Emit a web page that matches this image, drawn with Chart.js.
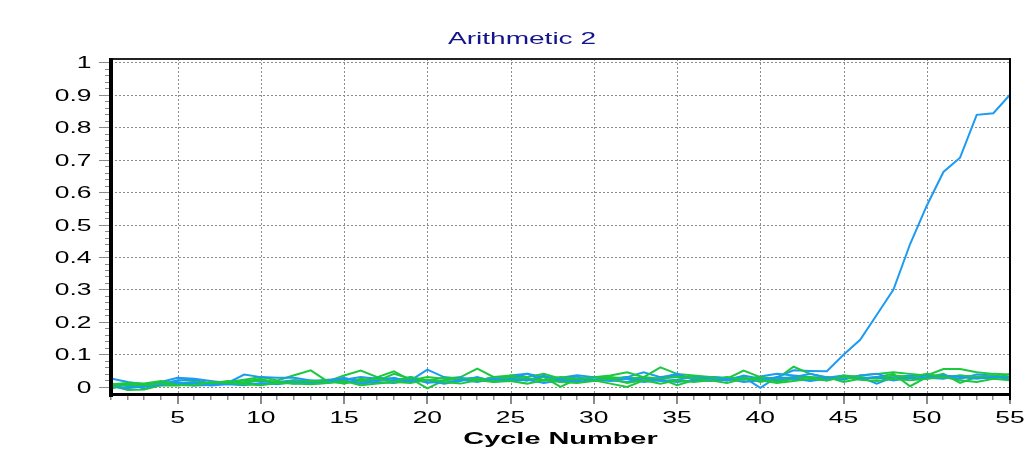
<!DOCTYPE html>
<html>
<head>
<meta charset="utf-8">
<script src="https://cdn.jsdelivr.net/npm/chart.js@4/dist/chart.umd.min.js"></script>
<style>
  html, body { margin: 0; padding: 0; background: #fff; }
  canvas { display: block; }
</style>
</head>
<body>
<canvas id="c" width="1035" height="465"></canvas>
<script>
// Amplification curves: fluorescence (arithmetic) per PCR cycle
const cycles = [
  1, 2, 3, 4, 5, 6, 7, 8, 9, 10, 11,
  12, 13, 14, 15, 16, 17, 18, 19, 20, 21, 22,
  23, 24, 25, 26, 27, 28, 29, 30, 31, 32, 33,
  34, 35, 36, 37, 38, 39, 40, 41, 42, 43, 44,
  45, 46, 47, 48, 49, 50, 51, 52, 53, 54, 55
];

const xTickValues = [5, 10, 15, 20, 25, 30, 35, 40, 45, 50, 55];
const yTickValues = [0, 0.1, 0.2, 0.3, 0.4, 0.5, 0.6, 0.7, 0.8, 0.9, 1];
const yTickLabels = ['0', '0.1', '0.2', '0.3', '0.4', '0.5', '0.6', '0.7', '0.8', '0.9', '1'];

// Sample that amplifies (late Ct)
const blueRise = [
  0.026, 0.015, 0.008, 0.015, 0.028, 0.025, 0.018, 0.012, 0.020, 0.018, 0.015,
  0.020, 0.018, 0.022, 0.025, 0.020, 0.028, 0.024, 0.020, 0.053, 0.030, 0.025,
  0.028, 0.020, 0.035, 0.040, 0.030, 0.028, 0.036, 0.030, 0.025, 0.030, 0.045,
  0.030, 0.035, 0.028, 0.030, 0.026, 0.030, -0.003, 0.030, 0.051, 0.049, 0.048,
  0.099, 0.145, 0.222, 0.300, 0.440, 0.558, 0.662, 0.706, 0.838, 0.843, 0.900
];

// Non-amplifying wells (baseline noise)
const blueB = [
  0.004, 0.010, -0.006, 0.008, 0.020, 0.022, 0.010, 0.012, 0.038, 0.030, 0.028,
  0.028, 0.020, 0.015, 0.022, 0.030, 0.025, 0.018, 0.030, 0.012, 0.020, 0.028,
  0.018, 0.030, 0.026, 0.040, 0.020, 0.025, 0.032, 0.018, 0.022, 0.030, 0.020,
  0.028, 0.040, 0.022, 0.030, 0.028, 0.022, 0.032, 0.040, 0.035, 0.030, 0.028,
  0.035, 0.030, 0.010, 0.030, 0.035, 0.028, 0.025, 0.035, 0.030, 0.028, 0.030
];
const blueC = [
  0.010, 0.002, 0.004, 0.012, 0.015, 0.004, 0.006, 0.015, 0.010, 0.008, 0.015,
  0.010, 0.012, 0.018, 0.028, 0.015, 0.020, 0.028, 0.015, 0.022, 0.010, 0.018,
  0.030, 0.015, 0.025, 0.020, 0.035, 0.015, 0.020, 0.030, 0.020, 0.015, 0.028,
  0.018, 0.022, 0.030, 0.025, 0.020, 0.035, 0.025, 0.020, 0.030, 0.040, 0.028,
  0.022, 0.035, 0.040, 0.025, 0.030, 0.035, 0.030, 0.025, 0.038, 0.035, 0.022
];
const blueD = [
  0.000, -0.004, 0.002, 0.006, 0.010, 0.012, 0.004, 0.008, 0.005, 0.012, 0.008,
  0.015, 0.010, 0.012, 0.020, 0.010, 0.015, 0.012, 0.020, 0.015, 0.012, 0.022,
  0.015, 0.025, 0.018, 0.022, 0.012, 0.020, 0.015, 0.022, 0.018, 0.025, 0.015,
  0.020, 0.015, 0.020, 0.018, 0.025, 0.015, 0.020, 0.030, 0.025, 0.018, 0.025,
  0.030, 0.025, 0.030, 0.020, 0.028, 0.025, 0.035, 0.030, 0.025, 0.030, 0.028
];
const greenA = [
  -0.006, 0.010, 0.008, 0.005, 0.012, 0.015, 0.012, 0.015, 0.022, 0.030, 0.020,
  0.036, 0.051, 0.017, 0.035, 0.050, 0.030, 0.048, 0.020, 0.030, 0.025, 0.030,
  0.056, 0.030, 0.035, 0.030, 0.040, 0.025, 0.020, 0.030, 0.035, 0.045, 0.030,
  0.060, 0.040, 0.035, 0.030, 0.025, 0.050, 0.030, 0.025, 0.062, 0.040, 0.030,
  0.025, 0.035, 0.040, 0.045, 0.040, 0.035, 0.055, 0.055, 0.045, 0.040, 0.038
];
const greenB = [
  0.004, -0.010, -0.008, 0.005, 0.004, 0.010, 0.012, 0.010, 0.015, 0.025, 0.010,
  0.020, 0.015, 0.020, 0.010, 0.025, 0.018, 0.040, 0.025, -0.005, 0.020, 0.025,
  0.018, 0.030, 0.025, 0.020, 0.030, 0.000, 0.025, 0.020, 0.010, 0.000, 0.020,
  0.025, 0.005, 0.020, 0.030, 0.020, 0.030, 0.015, 0.025, 0.030, 0.020, 0.030,
  0.015, 0.025, 0.030, 0.040, 0.002, 0.030, 0.040, 0.012, 0.030, 0.025, 0.040
];
const greenC = [
  0.008, 0.012, 0.010, 0.018, 0.008, 0.015, 0.010, 0.018, 0.012, 0.020, 0.015,
  0.010, 0.018, 0.015, 0.012, 0.018, 0.025, 0.015, 0.030, 0.020, 0.028, 0.020,
  0.025, 0.020, 0.030, 0.025, 0.020, 0.030, 0.025, 0.028, 0.030, 0.025, 0.030,
  0.025, 0.030, 0.028, 0.020, 0.030, 0.022, 0.030, 0.015, 0.025, 0.030, 0.020,
  0.035, 0.030, 0.025, 0.035, 0.030, 0.040, 0.030, 0.035, 0.030, 0.035, 0.030
];
const greenD = [
  0.002, 0.005, 0.006, 0.010, 0.006, 0.004, 0.015, 0.012, 0.008, 0.005, 0.012,
  0.010, 0.008, 0.012, 0.018, 0.005, 0.010, 0.015, 0.012, 0.022, 0.015, 0.010,
  0.020, 0.015, 0.018, 0.010, 0.020, 0.015, 0.012, 0.018, 0.025, 0.012, 0.020,
  0.010, 0.020, 0.015, 0.020, 0.012, 0.025, 0.020, 0.012, 0.018, 0.025, 0.020,
  0.030, 0.022, 0.018, 0.025, 0.020, 0.025, 0.030, 0.020, 0.015, 0.025, 0.020
];

const BLUE = '#1c9bf2';
const GREEN = '#1cc83e';
const FONT = '"Liberation Sans", Arial, sans-serif';

function line(data, color) {
  return {
    data: data,
    borderColor: color,
    backgroundColor: color,
    borderWidth: 2,
    pointRadius: 0,
    tension: 0,
    fill: false
  };
}

function stretchedText(ctx, text, x, y, align, font, color, sx) {
  ctx.save();
  ctx.font = font;
  ctx.fillStyle = color;
  ctx.textAlign = align;
  ctx.textBaseline = 'alphabetic';
  ctx.translate(x, y);
  ctx.scale(sx, 1);
  ctx.fillText(text, 0, 0);
  ctx.restore();
}

// Dotted grid behind the curves; frame, tick marks and text on top
const plotDecor = {
  id: 'plotDecor',
  beforeDatasetsDraw(chart) {
    const { ctx, chartArea: a, scales: { x, y } } = chart;
    ctx.save();
    ctx.strokeStyle = '#8c8c8c';
    ctx.lineWidth = 1;
    ctx.setLineDash([2, 2]);
    ctx.beginPath();
    for (const v of xTickValues) {
      const px = Math.round(x.getPixelForValue(v)) + 0.5;
      ctx.moveTo(px, a.top);
      ctx.lineTo(px, a.bottom);
    }
    for (const v of yTickValues) {
      const py = Math.round(y.getPixelForValue(v)) + 0.5;
      ctx.moveTo(a.left, py);
      ctx.lineTo(a.right, py);
    }
    ctx.stroke();
    ctx.restore();
  },
  afterDraw(chart) {
    const { ctx, chartArea: a, scales: { x, y } } = chart;
    ctx.save();

    // minor / major tick marks
    ctx.fillStyle = '#8a8a8a';
    for (const c of cycles) {
      const px = Math.round(x.getPixelForValue(c));
      const major = xTickValues.includes(c);
      ctx.fillRect(px - 1, a.bottom + 2, major ? 2 : 1.5, major ? 8 : 4);
    }
    for (let i = 0; i <= 50; i++) {
      const v = i / 50;
      const py = Math.round(y.getPixelForValue(v));
      const major = i % 5 === 0;
      if (major) ctx.fillRect(a.left - 12, py, 10, 1);
      else ctx.fillRect(a.left - 6, py, 4, 1);
    }

    // frame
    ctx.fillStyle = '#222';
    ctx.fillRect(a.left, a.top - 1, a.right - a.left, 2);
    ctx.fillStyle = '#000';
    ctx.fillRect(a.right - 1, a.top - 1, 2, a.bottom - a.top + 7);
    ctx.fillRect(a.left - 2, a.top - 1, 4, a.bottom - a.top + 4);
    ctx.fillRect(a.left - 2, a.bottom - 1, a.right - a.left + 3, 3);

    // tick labels
    const tickFont = '16px ' + FONT;
    yTickValues.forEach((v, i) => {
      const py = y.getPixelForValue(v);
      stretchedText(ctx, yTickLabels[i], 91.5, py + 6, 'right', tickFont, '#000', 1.65);
    });
    xTickValues.forEach(v => {
      const px = x.getPixelForValue(v);
      stretchedText(ctx, String(v), px, 423, 'center', tickFont, '#000', 1.65);
    });

    // titles
    stretchedText(ctx, 'Arithmetic 2', 522, 44, 'center', '16.5px ' + FONT, '#14148c', 1.7);
    stretchedText(ctx, 'Cycle Number', (a.left + a.right) / 2, 444, 'center', 'bold 17px ' + FONT, '#000', 1.7);

    ctx.restore();
  }
};

new Chart(document.getElementById('c'), {
  type: 'line',
  data: {
    labels: cycles,
    datasets: [
      line(greenD, GREEN),
      line(blueD, BLUE),
      line(greenC, GREEN),
      line(blueC, BLUE),
      line(greenB, GREEN),
      line(blueB, BLUE),
      line(greenA, GREEN),
      line(blueRise, BLUE)
    ]
  },
  options: {
    responsive: false,
    animation: false,
    events: [],
    layout: { padding: { top: 59, right: 25, bottom: 0, left: 0 } },
    plugins: {
      legend: { display: false },
      title: { display: false },
      tooltip: { enabled: false }
    },
    scales: {
      x: {
        type: 'linear',
        min: 1,
        max: 55,
        afterBuildTicks: s => { s.ticks = xTickValues.map(v => ({ value: v })); },
        afterFit: s => { s.height = 71; },
        ticks: { display: false },
        grid: { display: false },
        border: { display: false }
      },
      y: {
        type: 'linear',
        min: -0.022,
        max: 1.01,
        afterBuildTicks: s => { s.ticks = yTickValues.map(v => ({ value: v })); },
        afterFit: s => { s.width = 111; },
        ticks: { display: false },
        grid: { display: false },
        border: { display: false }
      }
    }
  },
  plugins: [plotDecor]
});
</script>
</body>
</html>
